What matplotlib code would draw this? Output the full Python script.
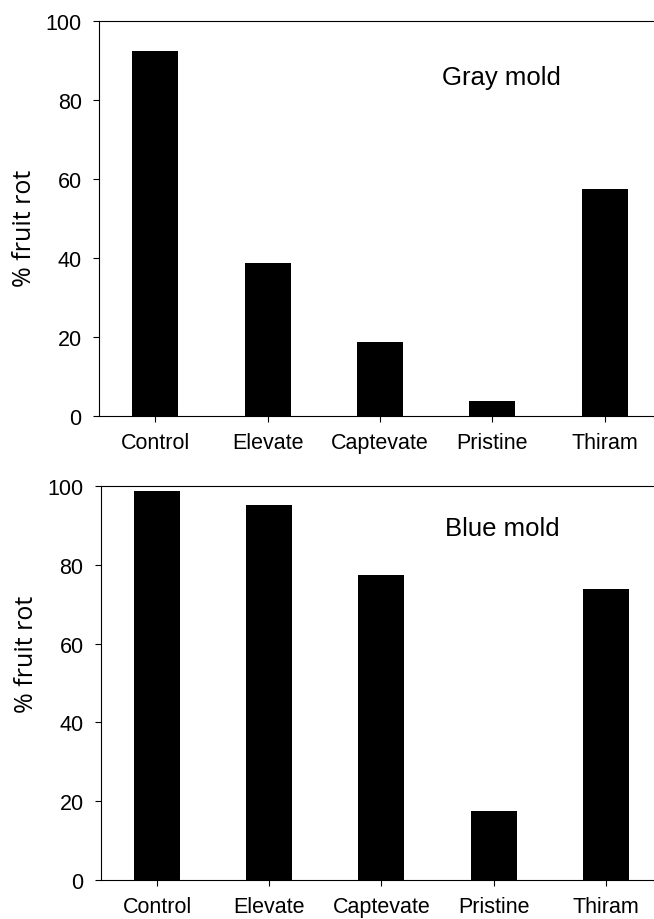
import matplotlib
matplotlib.use("Agg")
import matplotlib.pyplot as plt

treatments = ["Control", "Elevate", "Captevate", "Pristine", "Thiram"]
gray_mold = [92.5, 38.7, 18.8, 3.8, 57.5]
blue_mold = [98.8, 95.1, 77.5, 17.6, 73.8]
yticks = [0, 20, 40, 60, 80, 100]

plt.rcParams['font.family'] = ['Liberation Sans', 'DejaVu Sans']

fig = plt.figure(figsize=(6.54, 9.2), dpi=100)
fig.patch.set_facecolor('white')

ax1 = fig.add_axes([0.1514, 0.5467, 0.8593, 0.4294])
ax2 = fig.add_axes([0.1544, 0.0424, 0.8578, 0.4283])

panels = [(ax1, gray_mold, "Gray mold", 85.8, 0.478),
          (ax2, blue_mold, "Blue mold", 89.3, 0.574)]

for ax, vals, title, ty, ly in panels:
    x = list(range(len(treatments)))
    ax.bar(x, vals, width=0.41, color="black", edgecolor="none")
    ax.set_xlim(-0.5, 4.5)
    ax.set_ylim(0, 100)
    ax.set_xticks(x)
    ax.set_xticklabels(treatments)
    ax.set_yticks(yticks)
    ax.tick_params(axis="both", direction="out", length=4.5, width=0.8,
                   labelsize=15.5, colors="black")
    ax.tick_params(axis="x", pad=7)
    ax.tick_params(axis="y", pad=8)
    for s in ax.spines.values():
        s.set_linewidth(0.8)
    ax.set_ylabel("% fruit rot", fontsize=18, family=['Open Sans', 'DejaVu Sans'])
    ax.yaxis.set_label_coords(-0.11, ly)
    ax.text(3.08, ty, title, fontsize=18.5, ha="center", va="center")

fig.savefig("out.png", dpi=100)
